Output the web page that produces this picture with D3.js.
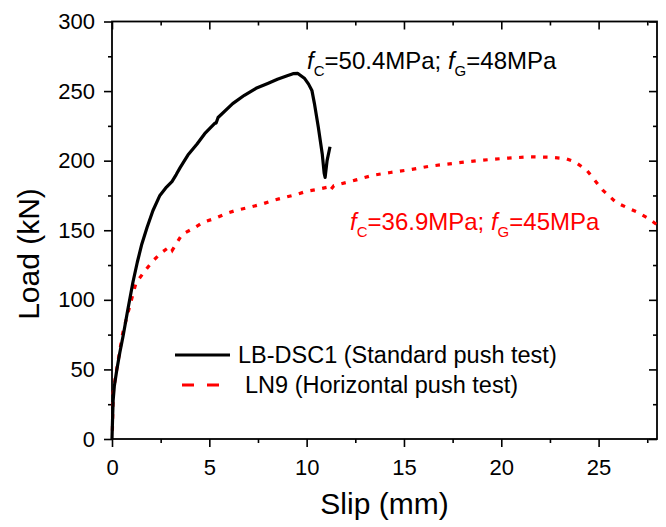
<!DOCTYPE html>
<html><head><meta charset="utf-8">
<script src="https://cdn.jsdelivr.net/npm/d3@7"></script>
<style>
html,body{margin:0;padding:0;background:#fff;}
text{font-family:"Liberation Sans",Arial,Helvetica,sans-serif;}
</style></head>
<body><svg id="chart" width="666" height="527"></svg>
<script>
// ---- data ----
const seriesNames = ["LB-DSC1 (Standard push test)", "LN9 (Horizontal push test)"];
const lbSlip = [0,0.03,0.06,0.12,0.25,0.4,0.57,0.8,1.08,1.3,1.53,1.8,2.1,2.46,2.8,3.08,3.3,3.5,3.9,4.37,4.8,5.29,5.35,5.45,6.2,6.8,7.4,8.0,8.5,9.0,9.3,9.55,9.9,10.1,10.27,10.4,10.6,10.8,10.9,10.95,11.05,11.2];
const lbLoad = [0,15,28,38,50,62,74,92,113,127,140,152,164,175,181,185,190,195,204,212,220,227,227,231,241,247,252,255.5,258.5,261,262.5,262.7,259,255,250.5,241,224,205,191,188,200,210];
const lnSlip = [0.02,0.06,0.15,0.3,0.55,0.77,1.0,1.23,1.7,2.1,2.55,3.0,3.1,3.2,3.6,4.2,4.7,5.3,5.86,6.4,7.1,7.75,8.3,8.9,9.5,10.0,10.6,11.1,11.2,11.4,12.5,13.4,14.3,15.3,16.3,17.5,18.75,20,21.5,22.5,23.3,23.8,24.4,24.8,25.2,25.9,26.5,27,27.5,28];
const lnLoad = [6,33,42,55,76,88,100,112,121,128,134,138.5,135.7,138,147,151.5,155.8,158.6,162,164.4,166.6,169,171.5,173.7,175.8,178,179.5,181,178.5,182,186,189.5,191.5,193.5,196,198,200,201.5,202.8,202.5,201.5,199,193,186,179,170,166,163,159,154];
const xTicks = [0,5,10,15,20,25];
const xMinor = [2.5,7.5,12.5,17.5,22.5,27.5];
const yTicks = [0,50,100,150,200,250,300];
const yMinor = [25,75,125,175,225,275];
const xTitle = "Slip (mm)";
const yTitle = "Load (kN)";

// ---- layout ----
const L = 112, R = 657, T = 21.5, B = 439;
const svg = d3.select("#chart");
const x = d3.scaleLinear().domain([0,28]).range([L,R]);
const y = d3.scaleLinear().domain([0,300]).range([B,T]);

function styleAxis(g, labels){
  g.select(".domain").remove();
  g.selectAll("line").attr("stroke","#000").attr("stroke-width",1.6);
  g.selectAll("text").attr("fill","#000").style("font-size","22px");
  if(!labels) g.selectAll("text").remove();
}
// bottom
svg.append("g").attr("transform",`translate(0,${B})`)
  .call(d3.axisBottom(x).tickValues(xTicks).tickSize(8).tickPadding(12).tickFormat(d3.format("d")))
  .call(g=>styleAxis(g,true));
svg.append("g").attr("transform",`translate(0,${B})`)
  .call(d3.axisBottom(x).tickValues(xMinor).tickSize(4)).call(g=>styleAxis(g,false));
// top (inward)
svg.append("g").attr("transform",`translate(0,${T})`)
  .call(d3.axisTop(x).tickValues(xTicks).tickSize(-8)).call(g=>styleAxis(g,false));
svg.append("g").attr("transform",`translate(0,${T})`)
  .call(d3.axisTop(x).tickValues(xMinor).tickSize(-4)).call(g=>styleAxis(g,false));
// left
svg.append("g").attr("transform",`translate(${L},0)`)
  .call(d3.axisLeft(y).tickValues(yTicks).tickSize(8).tickPadding(9).tickFormat(d3.format("d")))
  .call(g=>styleAxis(g,true));
svg.append("g").attr("transform",`translate(${L},0)`)
  .call(d3.axisLeft(y).tickValues(yMinor).tickSize(4)).call(g=>styleAxis(g,false));
// right (inward)
svg.append("g").attr("transform",`translate(${R},0)`)
  .call(d3.axisRight(y).tickValues(yTicks).tickSize(-8)).call(g=>styleAxis(g,false));
svg.append("g").attr("transform",`translate(${R},0)`)
  .call(d3.axisRight(y).tickValues(yMinor).tickSize(-4)).call(g=>styleAxis(g,false));

// frame
svg.append("rect").attr("x",L).attr("y",T).attr("width",R-L).attr("height",B-T)
  .attr("fill","none").attr("stroke","#000").attr("stroke-width",1.8);

// curves
const lineC = d3.line().x(d=>x(d[0])).y(d=>y(d[1])).curve(d3.curveLinear);
const lnData = lnSlip.map((s,i)=>[s,lnLoad[i]]);
const lbData = lbSlip.map((s,i)=>[s,lbLoad[i]]);
svg.append("path").attr("d",lineC(lnData)).attr("fill","none")
  .attr("stroke","#ff0000").attr("stroke-width",3.2).attr("stroke-dasharray","4.5,7.5");
svg.append("path").attr("d",lineC(lbData)).attr("fill","none")
  .attr("stroke","#000").attr("stroke-width",3.2).attr("stroke-linejoin","round");

// axis titles
svg.append("text").attr("x",(L+R)/2).attr("y",514).attr("text-anchor","middle")
  .style("font-size","30px").text(xTitle);
svg.append("text").attr("transform",`translate(39,254) rotate(-90)`).attr("text-anchor","middle")
  .style("font-size","30px").text(yTitle);

// annotations
function annot(px,py,color,fc,fg){
  const t = svg.append("text").attr("x",px).attr("y",py).attr("fill",color).style("font-size","24px");
  t.append("tspan").style("font-style","italic").text("f");
  t.append("tspan").attr("dy",7).style("font-size","15px").text("C");
  t.append("tspan").attr("dy",-7).text("="+fc+"MPa; ");
  t.append("tspan").style("font-style","italic").text("f");
  t.append("tspan").attr("dy",7).style("font-size","15px").text("G");
  t.append("tspan").attr("dy",-7).text("="+fg+"MPa");
}
annot(307,69,"#000","50.4","48");
annot(350,230,"#ff0000","36.9","45");

// legend
svg.append("line").attr("x1",175).attr("x2",230).attr("y1",355).attr("y2",355)
  .attr("stroke","#000").attr("stroke-width",3.2);
svg.append("text").attr("x",238).attr("y",363).style("font-size","23.5px").text(seriesNames[0]);
svg.append("line").attr("x1",182).attr("x2",219).attr("y1",385).attr("y2",385)
  .attr("stroke","#ff0000").attr("stroke-width",3.2).attr("stroke-dasharray","12,13");
svg.append("text").attr("x",245).attr("y",393).style("font-size","23.5px").text(seriesNames[1]);
</script></body></html>
